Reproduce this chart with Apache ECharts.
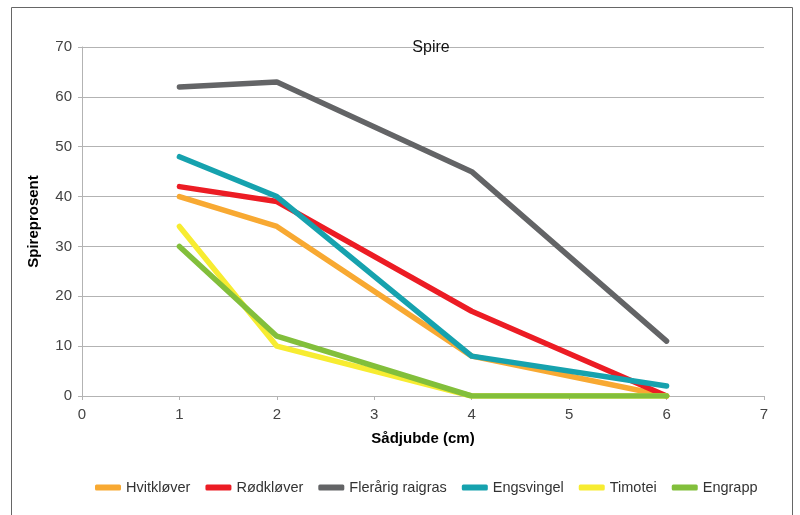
<!DOCTYPE html>
<html><head><meta charset="utf-8">
<script src="https://cdn.jsdelivr.net/npm/echarts@6/dist/echarts.min.js"></script>
<style>html,body{margin:0;padding:0;background:#fff}#c{width:800px;height:515px}</style>
</head><body><div id="c"></div>
<script>
const depths = [1, 2, 4, 6];
const seriesNames = ['Hvitkløver', 'Rødkløver', 'Flerårig raigras', 'Engsvingel', 'Timotei', 'Engrapp'];
const hvitklover = [40, 34, 8, 0];
const rodklover = [42, 39, 17, 0];
const flerarigRaigras = [62, 63, 45, 11];
const engsvingel = [48, 40, 8, 2];
const timotei = [34, 10, 0, 0];
const engrapp = [30, 12, 0, 0];
const colors = ['#F8A932', '#EC1C24', '#636466', '#16A2AE', '#F7EC31', '#82BF3B'];
const allValues = [hvitklover, rodklover, flerarigRaigras, engsvingel, timotei, engrapp];

const font = 'Liberation Sans, Arial, sans-serif';
const chart = echarts.init(document.getElementById('c'), null, {renderer: 'canvas'});
chart.setOption({
  animation: false,
  color: colors,
  title: {text: 'Spire', left: 426, top: 35, textAlign: 'center',
    textStyle: {fontFamily: font, fontSize: 16, fontWeight: 'normal', color: '#111'}},
  graphic: [{type: 'rect', shape: {x: 11.5, y: 7.5, width: 781, height: 520},
    style: {fill: 'none', stroke: '#666', lineWidth: 1}}],
  grid: {left: 82, right: 36, top: 47, bottom: 119, containLabel: false},
  legend: {bottom: 15, left: 90, itemWidth: 26, itemHeight: 6, itemGap: 15,
    icon: 'roundRect',
    textStyle: {fontFamily: font, fontSize: 14.5, color: '#333'},
    data: seriesNames},
  xAxis: {type: 'value', min: 0, max: 7, interval: 1,
    name: 'Sådjubde (cm)', nameLocation: 'middle', nameGap: 35,
    nameTextStyle: {fontFamily: font, fontSize: 15, fontWeight: 'bold', color: '#000'},
    axisLine: {lineStyle: {color: '#b3b3b3'}},
    axisTick: {show: true, length: 4, lineStyle: {color: '#b3b3b3'}},
    axisLabel: {fontFamily: font, fontSize: 15, color: '#444', margin: 11},
    splitLine: {show: false}},
  yAxis: {type: 'value', min: 0, max: 70, interval: 10,
    name: 'Spireprosent', nameLocation: 'middle', nameGap: 41, nameRotate: 90,
    nameTextStyle: {fontFamily: font, fontSize: 15, fontWeight: 'bold', color: '#000'},
    axisLine: {show: true, lineStyle: {color: '#b3b3b3'}},
    axisTick: {show: true, length: 4, lineStyle: {color: '#b3b3b3'}},
    axisLabel: {fontFamily: font, fontSize: 15, color: '#444', margin: 10},
    splitLine: {lineStyle: {color: '#b3b3b3'}}},
  series: seriesNames.map((n, i) => ({
    name: n, type: 'line', showSymbol: false, symbol: 'none',
    lineStyle: {width: 5.5, cap: 'round', join: 'round', color: colors[i]},
    itemStyle: {color: colors[i]},
    data: depths.map((d, j) => [d, allValues[i][j]])
  }))
});
</script></body></html>
